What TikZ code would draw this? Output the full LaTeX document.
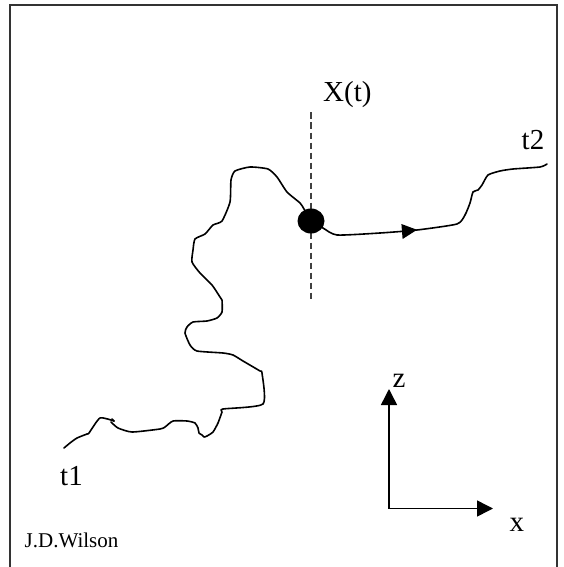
\documentclass[tikz,border=0pt]{standalone}
\usepackage{fontspec}
\setmainfont{Liberation Serif}
\usetikzlibrary{arrows.meta,shapes.geometric}
\tikzset{
  frameline/.style={draw=black!80, line width=2pt},
  walk/.style={draw=black, line width=1.6pt, line join=round, line cap=round},
  guide/.style={draw=black!75, line width=1.6pt, dash pattern=on 6.5pt off 3.5pt},
  axis/.style={draw=black, line width=1.5pt, -{Triangle[length=16pt,width=16pt]}},
  biglabel/.style={inner sep=0pt, anchor=base west, font=\fontsize{29}{34}\selectfont},
  smalllabel/.style={inner sep=0pt, anchor=base west, font=\fontsize{21}{25}\selectfont},
}
\begin{document}
\begin{tikzpicture}[x=1pt,y=-1pt]
\useasboundingbox (0,0) rectangle (563,567);
% frame
\draw[frameline] (10,567) -- (10,5) -- (557,5) -- (557,567);
% dashed guide
\coordinate (gtop) at (311,112.5);
\coordinate (gbot) at (311,300);
\draw[guide] (gtop) -- (gbot);
% random walk
\draw[walk] plot[smooth, tension=0.35] coordinates {
(64,448) (70,443) (77,438) (87,434) (89,433) (100,418) (114,421)};
\draw[walk] (112,419) -- (114,421);
\draw[walk] plot[smooth, tension=0.35] coordinates {
(111,422) (118,428) (132,432) (160,429) (165,427) (173,421) (187,421)
(195,423) (198,428) (199,433) (202,435) (204,437) (207,436) (213,432)
(218,423) (222,412) (223,409) (263,404) (262,373) (260,371) (243,361)
(233,355) (223,353) (197,351) (190,345) (185,333) (187,327) (193,322)
(207,321) (217,318) (222,312) (222,300) (220,297) (212,285) (200,273)
(192,262) (193,250) (195,239) (205,234) (213,225) (222,221) (230,202)
(231,180) (235,171) (250,167) (268,169) (277,177) (287,192) (300,203)
(304,209) (311,221) (323,228) (337,235) (380,233) (417,230) (457,224)
(465,215) (470,203) (473,192) (478,190) (482,185) (488,175) (500,171)
(513,169) (540,167) (547,164)};
% direction arrow on the walk
\fill (417,229.8) -- (401.4,224.0) -- (402.6,239.0) -- cycle;
% particle
\node[fill=black, ellipse, minimum width=27pt, minimum height=25pt, inner sep=0pt] (dot) at (311,221) {};
% axes
\coordinate (o) at (389,508.5);
\coordinate (ztip) at (389,389);
\coordinate (xtip) at (493,508.5);
\draw[axis] (o) -- (ztip);
\draw[axis] (o) -- (xtip);
% labels
\node[biglabel] (lX) at (323,101.5) {X(t)};
\node[biglabel] (lt2) at (521.5,149.5) {t2};
\node[biglabel] (lt1) at (60,485.5) {t1};
\node[biglabel] (lz) at (392.5,387) {z};
\node[biglabel] (lx) at (509.5,531.5) {x};
\node[smalllabel] (lw) at (24.5,547) {J.D.Wilson};
\end{tikzpicture}
\end{document}
